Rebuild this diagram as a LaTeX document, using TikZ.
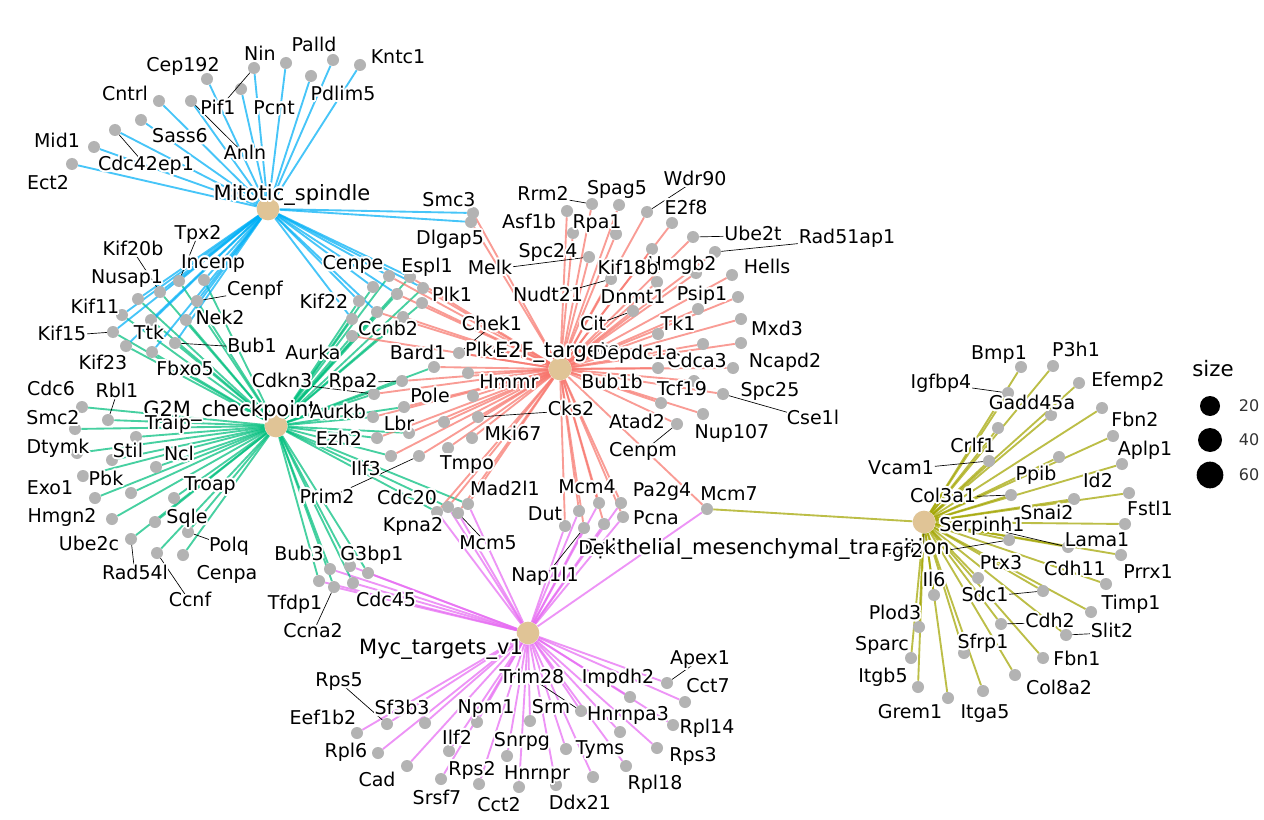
\documentclass[tikz,border=0pt]{standalone}
\usepackage{fontspec}
\setmainfont{DejaVu Sans}
\usepackage[copies]{contour}
\contourlength{1.3pt}
\contournumber{16}
\definecolor{cms}{RGB}{0,176,246}
\definecolor{cgm}{RGB}{0,191,125}
\definecolor{cef}{RGB}{248,118,109}
\definecolor{cmy}{RGB}{231,107,243}
\definecolor{cem}{RGB}{163,165,0}
\definecolor{dotgray}{RGB}{179,179,179}
\definecolor{hubtan}{RGB}{224,196,150}
\pgfdeclarelayer{bg}
\pgfdeclarelayer{lead}
\pgfdeclarelayer{labels}
\pgfsetlayers{bg,main,lead,labels}
\def\MSlist{Pif1,Nin,Cep192,Pcnt,Palld,Pdlim5,Kntc1,Cntrl,Anln,Sass6,Cdc42ep1,Mid1,Ect2,Smc3,Dlgap5,Tpx2,Kif20b,Incenp,Cenpf,Nusap1,Kif11,Nek2,Kif15,Ttk,Bub1,Kif23,Fbxo5,Cenpe,Espl1,cA,Plk1,cB,Kif22,cD,cE}
\def\GMlist{Tpx2,Kif20b,Incenp,Cenpf,Nusap1,Kif11,Nek2,Kif15,Ttk,Bub1,Kif23,Fbxo5,Cenpe,Espl1,cA,Plk1,cB,cC,Kif22,cD,Ccnb2,cE,Aurka,Bard1,Rpa2,Cdkn3,Pole,Aurkb,Lbr,Ezh2,Ilf3,Kpna2,Cdc20,Mad2l1,Bub3,G3bp1,bA,Tfdp1,Ccna2,Cdc45,Cdc6,Rbl1,Smc2,Dtymk,Stil,Ncl,gA,Exo1,Pbk,Hmgn2,Troap,Ube2c,Sqle,Rad54l,Polq,Ccnf,Cenpa}
\def\EFlist{Smc3,Dlgap5,Cenpe,Espl1,Plk1,cB,cC,cD,Ccnb2,Aurka,Bard1,Rpa2,Cdkn3,Pole,Aurkb,Lbr,Ezh2,Ilf3,Chek1,Hmmr,eA,Cks2,Mki67,Tmpo,eB,Prim2,Kpna2,Cdc20,Mcm5,Mad2l1,Mcm4,mA,Pa2g4,Dut,Nap1l1,Dek,Pcna,Mcm7,Asf1b,Rrm2,Spag5,Wdr90,E2f8,Ube2t,Rad51ap1,Rpa1,Spc24,Hmgb2,Melk,Nudt21,Dnmt1,Psip1,Hells,eC,Tk1,Cit,Mxd3,Depdc1a,eD,Ncapd2,Cdca3,eE,Tcf19,Cse1l,Bub1b,Nup107,Cenpm}
\def\MYlist{Kpna2,Cdc20,Mcm5,Mad2l1,Bub3,G3bp1,bA,Tfdp1,Ccna2,Cdc45,Mcm4,mA,Pa2g4,Dut,Nap1l1,Dek,Pcna,Mcm7,Apex1,Cct7,Impdh2,Trim28,Hnrnpa3,Rpl14,Rps3,Rpl18,Tyms,yA,Srm,Ddx21,Hnrnpr,Snrpg,Cct2,Rps2,Npm1,Ilf2,Sf3b3,Rps5,Eef1b2,Rpl6,Cad}
\def\EMlist{Mcm7,Bmp1,P3h1,Igfbp4,Efemp2,Gadd45a,Crlf1,Fbn2,tA,Ppib,Aplp1,Vcam1,Id2,Col3a1,Fstl1,Snai2,Lama1,Fgf2,Prrx1,Cdh11,Ptx3,Timp1,Sdc1,Il6,Plod3,Cdh2,Slit2,Sfrp1,Sparc,Fbn1,Itgb5,Col8a2,Grem1,Itga5}
\begin{document}
\begin{tikzpicture}[x=0.75pt,y=-0.75pt,
  genedot/.style={circle,fill=dotgray,inner sep=0pt,minimum size=9pt},
  hubnode/.style={circle,fill=hubtan,inner sep=0pt,minimum size=17pt},
  glabel/.style={font=\fontsize{14.25}{16}\selectfont,inner sep=0.5pt,text height=0.73em,text depth=0pt,yshift=-2pt},
  hlabel/.style={font=\fontsize{15.75}{18}\selectfont,inner sep=0.5pt,text height=0.73em,text depth=0pt,yshift=-2pt},
  lnk/.style={line width=1.4pt,opacity=0.72},
  leadline/.style={line width=0.5pt,black}]
\useasboundingbox (0,0) rectangle (1264,820);
\begin{pgfonlayer}{bg}
\fill[white] (0,0) rectangle (1264,820);
\end{pgfonlayer}
% hubs
\node[hubnode] (MS) at (268,209) {};
\node[hubnode] (GM) at (276,426) {};
\node[hubnode] (EF) at (560,369) {};
\node[hubnode] (MY) at (528,633) {};
\node[hubnode] (EM) at (924,522) {};
% gene dots
\foreach \n/\x/\y in {Pif1/254/68, Nin/241/89, Cep192/207/79, Pcnt/286/63, Palld/333/60, Pdlim5/311/76, Kntc1/360/65, Cntrl/159/101, Anln/191/101, Sass6/141/120, Cdc42ep1/115/130, Mid1/94/147, Ect2/72/164,
Smc3/473/213, Dlgap5/471/222,
Tpx2/179/281, Kif20b/160/292, Incenp/204/280, Cenpf/197/301, Nusap1/138/299, Kif11/122/315, Nek2/186/320, Kif15/113/332, Ttk/151/320, Bub1/175/343, Kif23/126/346, Fbxo5/152/352,
Cenpe/389/276, Espl1/410/277, cA/373/287, Plk1/423/288, cB/397/294, cC/422/303, Kif22/359/301, cD/377/312, Ccnb2/403/317, cE/352/319, Aurka/352/336,
Bard1/434/367, Rpa2/402/381, Cdkn3/374/394, Pole/404/407, Aurkb/373/417, Lbr/409/433, Ezh2/377/438, Ilf3/391/456,
Chek1/459/353, Hmmr/468/373, eA/473/396, Cks2/478/417, Mki67/472/438, Tmpo/448/448, eB/444/422, Prim2/419/456,
Kpna2/437/512, Cdc20/448/507, Mcm5/458/513, Mad2l1/468/504,
Bub3/330/569, G3bp1/350/566, bA/368/573, Tfdp1/319/581, Ccna2/334/587, Cdc45/353/583,
Mcm4/579/511, mA/599/503, Pa2g4/621/503, Dut/565/526, Nap1l1/584/528, Dek/604/524, Pcna/623/517,
Mcm7/707/509,
Asf1b/567/211, Rrm2/592/204, Spag5/619/205, Wdr90/647/212, E2f8/672/223, Ube2t/693/237, Rad51ap1/715/252, Rpa1/573/233, Spc24/616/234, Hmgb2/652/249, Melk/589/257, Nudt21/611/279, Dnmt1/657/282, Psip1/696/273, Hells/732/275, eC/738/297, Tk1/698/309, Cit/633/311, Mxd3/741/319, Depdc1a/658/334, eD/703/344, Ncapd2/741/343, Cdca3/658/368, eE/733/368, Tcf19/694/381, Cse1l/723/394, Bub1b/661/403, Nup107/703/414, Cenpm/677/424,
Cdc6/82/407, Rbl1/108/420, Smc2/75/429, Dtymk/77/453, Stil/136/437, Ncl/156/467, gA/112/460, Exo1/83/476, Pbk/131/493, Hmgn2/95/498, Troap/174/498, Ube2c/112/519, Sqle/155/522, Rad54l/131/539, Polq/188/532, Ccnf/157/553, Cenpa/183/555,
Apex1/667/683, Cct7/685/702, Impdh2/630/697, Trim28/581/711, Hnrnpa3/620/732, Rpl14/673/725, Rps3/657/748, Rpl18/626/766, Tyms/566/749, yA/593/777, Srm/530/721, Ddx21/556/785, Hnrnpr/519/787, Snrpg/507/756, Cct2/479/784, Rps2/441/779, Npm1/477/722, Ilf2/449/751, Sf3b3/425/723, Rps5/387/724, Eef1b2/357/733, Rpl6/378/753, Cad/407/766,
Bmp1/1021/367, P3h1/1053/366, Igfbp4/1008/393, Efemp2/1079/383, Gadd45a/1051/415, Crlf1/998/428, Fbn2/1102/408, tA/1113/436, Ppib/1059/457, Aplp1/1122/464, Vcam1/989/461, Id2/1074/499, Col3a1/1011/495, Fstl1/1129/493, Snai2/1125/524, Lama1/1068/547, Fgf2/1009/540, Prrx1/1121/555, Cdh11/1106/584, Ptx3/978/578, Timp1/1091/612, Sdc1/1043/591, Il6/934/595, Plod3/919/627, Cdh2/1001/624, Slit2/1066/635, Sfrp1/964/653, Sparc/911/658, Fbn1/1043/658, Itgb5/918/687, Col8a2/1015/675, Grem1/948/698, Itga5/983/691}
  \node[genedot] (\n) at (\x,\y) {};
\coordinate (traipend) at (203,420);
% edges
\begin{pgfonlayer}{bg}
\foreach \n in \EMlist {\draw[lnk,cem] (EM) -- (\n);}
\foreach \n in \MYlist {\draw[lnk,cmy] (MY) -- (\n);}
\foreach \n in \GMlist {\draw[lnk,cgm] (GM) -- (\n);}
\foreach \n in \MSlist {\draw[lnk,cms] (MS) -- (\n);}
\foreach \n in \EFlist {\draw[lnk,cef] (EF) -- (\n);}
\end{pgfonlayer}
% labels
\begin{pgfonlayer}{labels}
\node[hlabel] (l-MS) at (292,193) {\contour{white}{Mitotic\_spindle}};
\node[hlabel] (l-GM) at (230,409) {\contour{white}{G2M\_checkpoint}};
\node[hlabel] (l-MY) at (441,647) {\contour{white}{Myc\_targets\_v1}};
\node[hlabel] (l-EM) at (767,547) {\contour{white}{Epithelial\_mesenchymal\_transition}};
\foreach \t/\x/\y in {Cep192/183/64, Nin/260/53, Palld/314/44, Kntc1/398/56, Pdlim5/343/93, Pif1/218/107, Pcnt/274/107, Cntrl/125/93, Sass6/180/135, Anln/245/152, Mid1/57/140, Cdc42ep1/146/163, Ect2/48/182, Smc3/449/199, Dlgap5/450/237,
Tpx2/198/232, Kif20b/133/248, Incenp/213/261, Nusap1/127/276, Cenpf/255/288, Kif11/95/306, Nek2/220/317, Kif15/62/333, Ttk/149/332, Bub1/252/345, Kif23/103/362, Fbxo5/185/368,
Cenpe/353/262, Espl1/427/265, Kif22/324/301, Ccnb2/388/328, Plk1/452/294, Aurka/313/352, Cdkn3/282/380, Bard1/418/352, Chek1/492/323, Plk4/485/349, Rpa2/353/380, Aurkb/338/411, Pole/430/395, Hmmr/509/381, Lbr/399/423, Cks2/571/408, Ezh2/339/438, Mki67/513/433, Ilf3/366/468, Tmpo/467/462, Prim2/327/496, Cdc20/407/497, Mad2l1/505/488, Kpna2/413/524, Mcm5/488/542,
Cdc6/51/388, Rbl1/117/390, Smc2/53/417, Traip/168/422, Dtymk/58/446, Stil/128/450, Ncl/179/453, Exo1/50/487, Pbk/106/478, Hmgn2/62/515, Troap/210/483, Sqle/187/516, Ube2c/89/543, Polq/229/544, Rad54l/135/572, Cenpa/227/572, Ccnf/190/599,
Bub3/299/553, G3bp1/372/553, Tfdp1/295/602, Cdc45/386/599, Ccna2/313/630,
Rrm2/543/193, Spag5/617/187, Wdr90/695/178, Asf1b/529/221, Rpa1/597/221, E2f8/686/207, Ube2t/753/233, Rad51ap1/847/236, Spc24/548/250, Melk/490/267, Hmgb2/682/263, Kif18b/628/267, Hells/767/266, Nudt21/548/294, Dnmt1/633/296, Psip1/702/293, Cit/593/323, Tk1/678/323, Mxd3/777/328, Cdca3/697/360, Ncapd2/785/360, Bub1b/612/381, Tcf19/682/388, Spc25/770/389, Cse1l/813/417, Atad2/637/421, Nup107/732/431, Cenpm/643/449,
Mcm4/587/486, Pa2g4/662/489, Mcm7/729/493, Dut/545/513, Pcna/656/517, Nap1l1/545/574, Dek/597/547,
Apex1/700/657, Cct7/708/685, Impdh2/618/676, Trim28/532/676, Hnrnpa3/628/713, Rpl14/707/726, Rps3/693/754, Rpl18/655/782, Tyms/600/747, Srm/551/706, Ddx21/580/802, Hnrnpr/537/772, Snrpg/522/739, Cct2/499/804, Rps2/472/768, Srsf7/437/797, Npm1/486/706, Ilf2/457/737, Sf3b3/402/707, Rps5/339/679, Eef1b2/323/717, Rpl6/346/750, Cad/377/779,
Bmp1/999/352, P3h1/1076/349, Igfbp4/941/381, Efemp2/1128/379, Gadd45a/1032/402, Fbn2/1135/419, Crlf1/973/445, Aplp1/1145/448, Vcam1/901/467, Ppib/1036/473, Id2/1098/480, Col3a1/943/495, Fstl1/1150/508, Snai2/1047/512, Serpinh1/982/524, Lama1/1097/539, Fgf2/902/550, Prrx1/1148/571, Ptx3/1001/562, Cdh11/1075/568, Il6/934/579, Sdc1/985/594, Timp1/1131/602, Plod3/895/612, Cdh2/1050/620, Slit2/1112/630, Sfrp1/983/641, Sparc/882/643, Fbn1/1077/658, Itgb5/883/675, Col8a2/1059/687, Grem1/910/711, Itga5/985/711}
  \node[glabel] (l-\t) at (\x,\y) {\contour{white}{\t}};
\node[hlabel] (l-EF) at (557,350) {\contour{white}{E2F\_targets}};
\node[glabel] (l-Depdc1a) at (635,352) {\contour{white}{Depdc1a}};
% legend
\node[font=\fontsize{16}{18}\selectfont,inner sep=0pt] (legtitle) at (1213,369) {size};
\node[circle,fill=black,inner sep=0pt,minimum size=15pt] (leg1) at (1210,406) {};
\node[circle,fill=black,inner sep=0pt,minimum size=18pt] (leg2) at (1210,440) {};
\node[circle,fill=black,inner sep=0pt,minimum size=20pt] (leg3) at (1210,475) {};
\node[font=\fontsize{12}{14}\selectfont,text=black!80,inner sep=0pt] (legt1) at (1249,406) {20};
\node[font=\fontsize{12}{14}\selectfont,text=black!80,inner sep=0pt] (legt2) at (1249,440) {40};
\node[font=\fontsize{12}{14}\selectfont,text=black!80,inner sep=0pt] (legt3) at (1249,475) {60};
\end{pgfonlayer}
% leader lines
\begin{pgfonlayer}{lead}
\foreach \a/\b in {Pif1/Pif1, Anln/Anln, Cdc42ep1/Cdc42ep1, Tpx2/Tpx2, Kif20b/Kif20b, Cenpf/Cenpf, Kif15/Kif15, Bub1/Bub1, Rbl1/Rbl1, Traip/traipend, Rad54l/Rad54l, Polq/Polq, Ccnf/Ccnf, Cdkn3/Cdkn3, Rpa2/Rpa2, Chek1/Chek1, Cks2/Cks2, Prim2/Prim2, Mcm5/Mcm5, Ccna2/Ccna2, Nap1l1/Nap1l1, Melk/Melk, Rrm2/Rrm2, Wdr90/Wdr90, Ube2t/Ube2t, Rad51ap1/Rad51ap1, Nudt21/Nudt21, Cit/Cit, Cse1l/Cse1l, Cenpm/Cenpm, Trim28/Trim28, Apex1/Apex1, Rps5/Rps5, Igfbp4/Igfbp4, Vcam1/Vcam1, Col3a1/Col3a1, Serpinh1/Lama1, Sdc1/Sdc1, Cdh2/Cdh2, Slit2/Slit2}
  \draw[leadline] (l-\a) -- (\b);
\draw[leadline] (l-EM.east) -- (Fgf2);
\draw[leadline] (l-Fgf2.north east) -- (EM);
\end{pgfonlayer}
\end{tikzpicture}
\end{document}
